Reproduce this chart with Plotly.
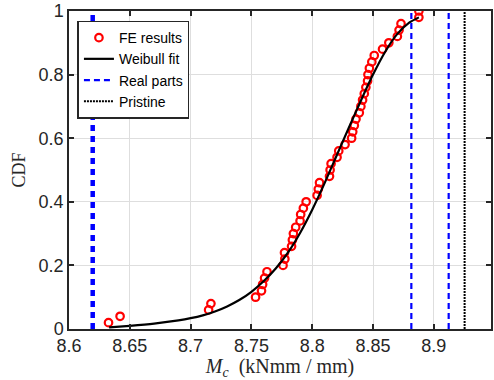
import plotly.graph_objects as go

# FE results (empirical CDF)
fe_x = [8.6325, 8.642, 8.7148, 8.7167, 8.7534, 8.7583, 8.7592, 8.7608, 8.7628, 8.776,
        8.7775, 8.7772, 8.783, 8.7837, 8.7845, 8.7864, 8.790, 8.7905, 8.7927, 8.795,
        8.804, 8.805, 8.806, 8.8142, 8.8147, 8.8155, 8.8204, 8.8218, 8.827, 8.8324,
        8.8333, 8.8346, 8.836, 8.8387, 8.840, 8.8414, 8.8428, 8.8441, 8.8455, 8.8458,
        8.847, 8.849, 8.851, 8.8578, 8.863, 8.870, 8.8714, 8.873, 8.8877, 8.8877]
fe_y = [0.02, 0.04, 0.06, 0.08, 0.10, 0.12, 0.14, 0.16, 0.18, 0.20,
        0.22, 0.24, 0.26, 0.28, 0.30, 0.32, 0.34, 0.36, 0.38, 0.40,
        0.42, 0.44, 0.46, 0.48, 0.50, 0.52, 0.54, 0.56, 0.58, 0.60,
        0.62, 0.64, 0.66, 0.68, 0.70, 0.72, 0.74, 0.76, 0.78, 0.80,
        0.82, 0.84, 0.86, 0.88, 0.90, 0.92, 0.94, 0.96, 0.98, 1.00]

# Weibull fit curve
fit_x = [8.633, 8.65, 8.67, 8.69, 8.70, 8.71, 8.72, 8.73, 8.74, 8.75, 8.76, 8.77,
         8.78, 8.79, 8.80, 8.81, 8.82, 8.83, 8.84, 8.85, 8.86, 8.87, 8.88, 8.8877]
fit_y = [0.005, 0.010, 0.017, 0.027, 0.034, 0.043, 0.055, 0.071, 0.091, 0.117, 0.150, 0.190,
         0.240, 0.302, 0.375, 0.457, 0.545, 0.632, 0.718, 0.800, 0.872, 0.928, 0.964, 0.980]

real_parts = [8.6195, 8.8815, 8.9122]
pristine = [8.9253]

x_ticks = [8.6, 8.65, 8.7, 8.75, 8.8, 8.85, 8.9]
x_tick_text = ["8.6", "8.65", "8.7", "8.75", "8.8", "8.85", "8.9"]
y_ticks = [0, 0.2, 0.4, 0.6, 0.8, 1]
y_tick_text = ["0", "0.2", "0.4", "0.6", "0.8", "1"]

real_widths = [4.5, 2.2, 2.2]
real_dashes = ["6px,5px", "6px,4px", "6px,4px"]

fig = go.Figure()

fig.add_trace(go.Scatter(
    x=fe_x, y=fe_y, mode="markers", name="FE results", legendrank=1,
    marker=dict(symbol="circle-open", color="red", size=7.5, line=dict(width=2.2, color="red")),
))
fig.add_trace(go.Scatter(
    x=fit_x, y=fit_y, mode="lines", name="Weibull fit", legendrank=2,
    line=dict(color="black", width=2.2, shape="spline", smoothing=0.6),
))
for i, v in enumerate(real_parts):
    fig.add_trace(go.Scatter(
        x=[v, v], y=[0, 1], mode="lines", name="Real parts",
        showlegend=(i == 1), legendrank=3,
        line=dict(color="#0000ff", width=real_widths[i], dash=real_dashes[i]),
    ))
for v in pristine:
    fig.add_trace(go.Scatter(
        x=[v, v], y=[0, 1], mode="lines", name="Pristine", legendrank=4,
        line=dict(color="black", width=2, dash="2px,1px"),
    ))

axis_common = dict(
    showline=True, linecolor="#262626", linewidth=1.5, mirror="ticks",
    ticks="inside", ticklen=5, tickwidth=1.5, tickcolor="#262626",
    showgrid=True, gridcolor="#dedede", gridwidth=1, zeroline=False,
    tickfont=dict(family="Liberation Sans, Arial, sans-serif", size=18, color="#262626"),
)

fig.update_layout(
    width=494, height=380,
    margin=dict(l=69, r=1, t=10, b=51),
    paper_bgcolor="white", plot_bgcolor="white",
    xaxis=dict(range=[8.6, 8.947], tickvals=x_ticks, ticktext=x_tick_text,
               title=dict(text="<i>M</i><sub><i>c</i></sub>  (kNmm / mm)", standoff=2,
                          font=dict(family="Liberation Serif, DejaVu Serif, serif", size=20, color="#262626")),
               **axis_common),
    yaxis=dict(range=[0, 1], tickvals=y_ticks, ticktext=y_tick_text,
               title=dict(text="CDF", standoff=8,
                          font=dict(family="Liberation Serif, DejaVu Serif, serif", size=18, color="#262626")),
               **axis_common),
    legend=dict(x=0.02, y=0.97, xanchor="left", yanchor="top",
                bgcolor="white", bordercolor="#262626", borderwidth=1.5,
                font=dict(family="Liberation Sans, Arial, sans-serif", size=14, color="black"),
                tracegroupgap=0, itemwidth=30, traceorder="normal"),
    showlegend=True,
)

fig.write_html("out.html", config={"displayModeBar": False},
               post_script="document.body.style.margin='0';document.body.style.overflow='hidden';")
